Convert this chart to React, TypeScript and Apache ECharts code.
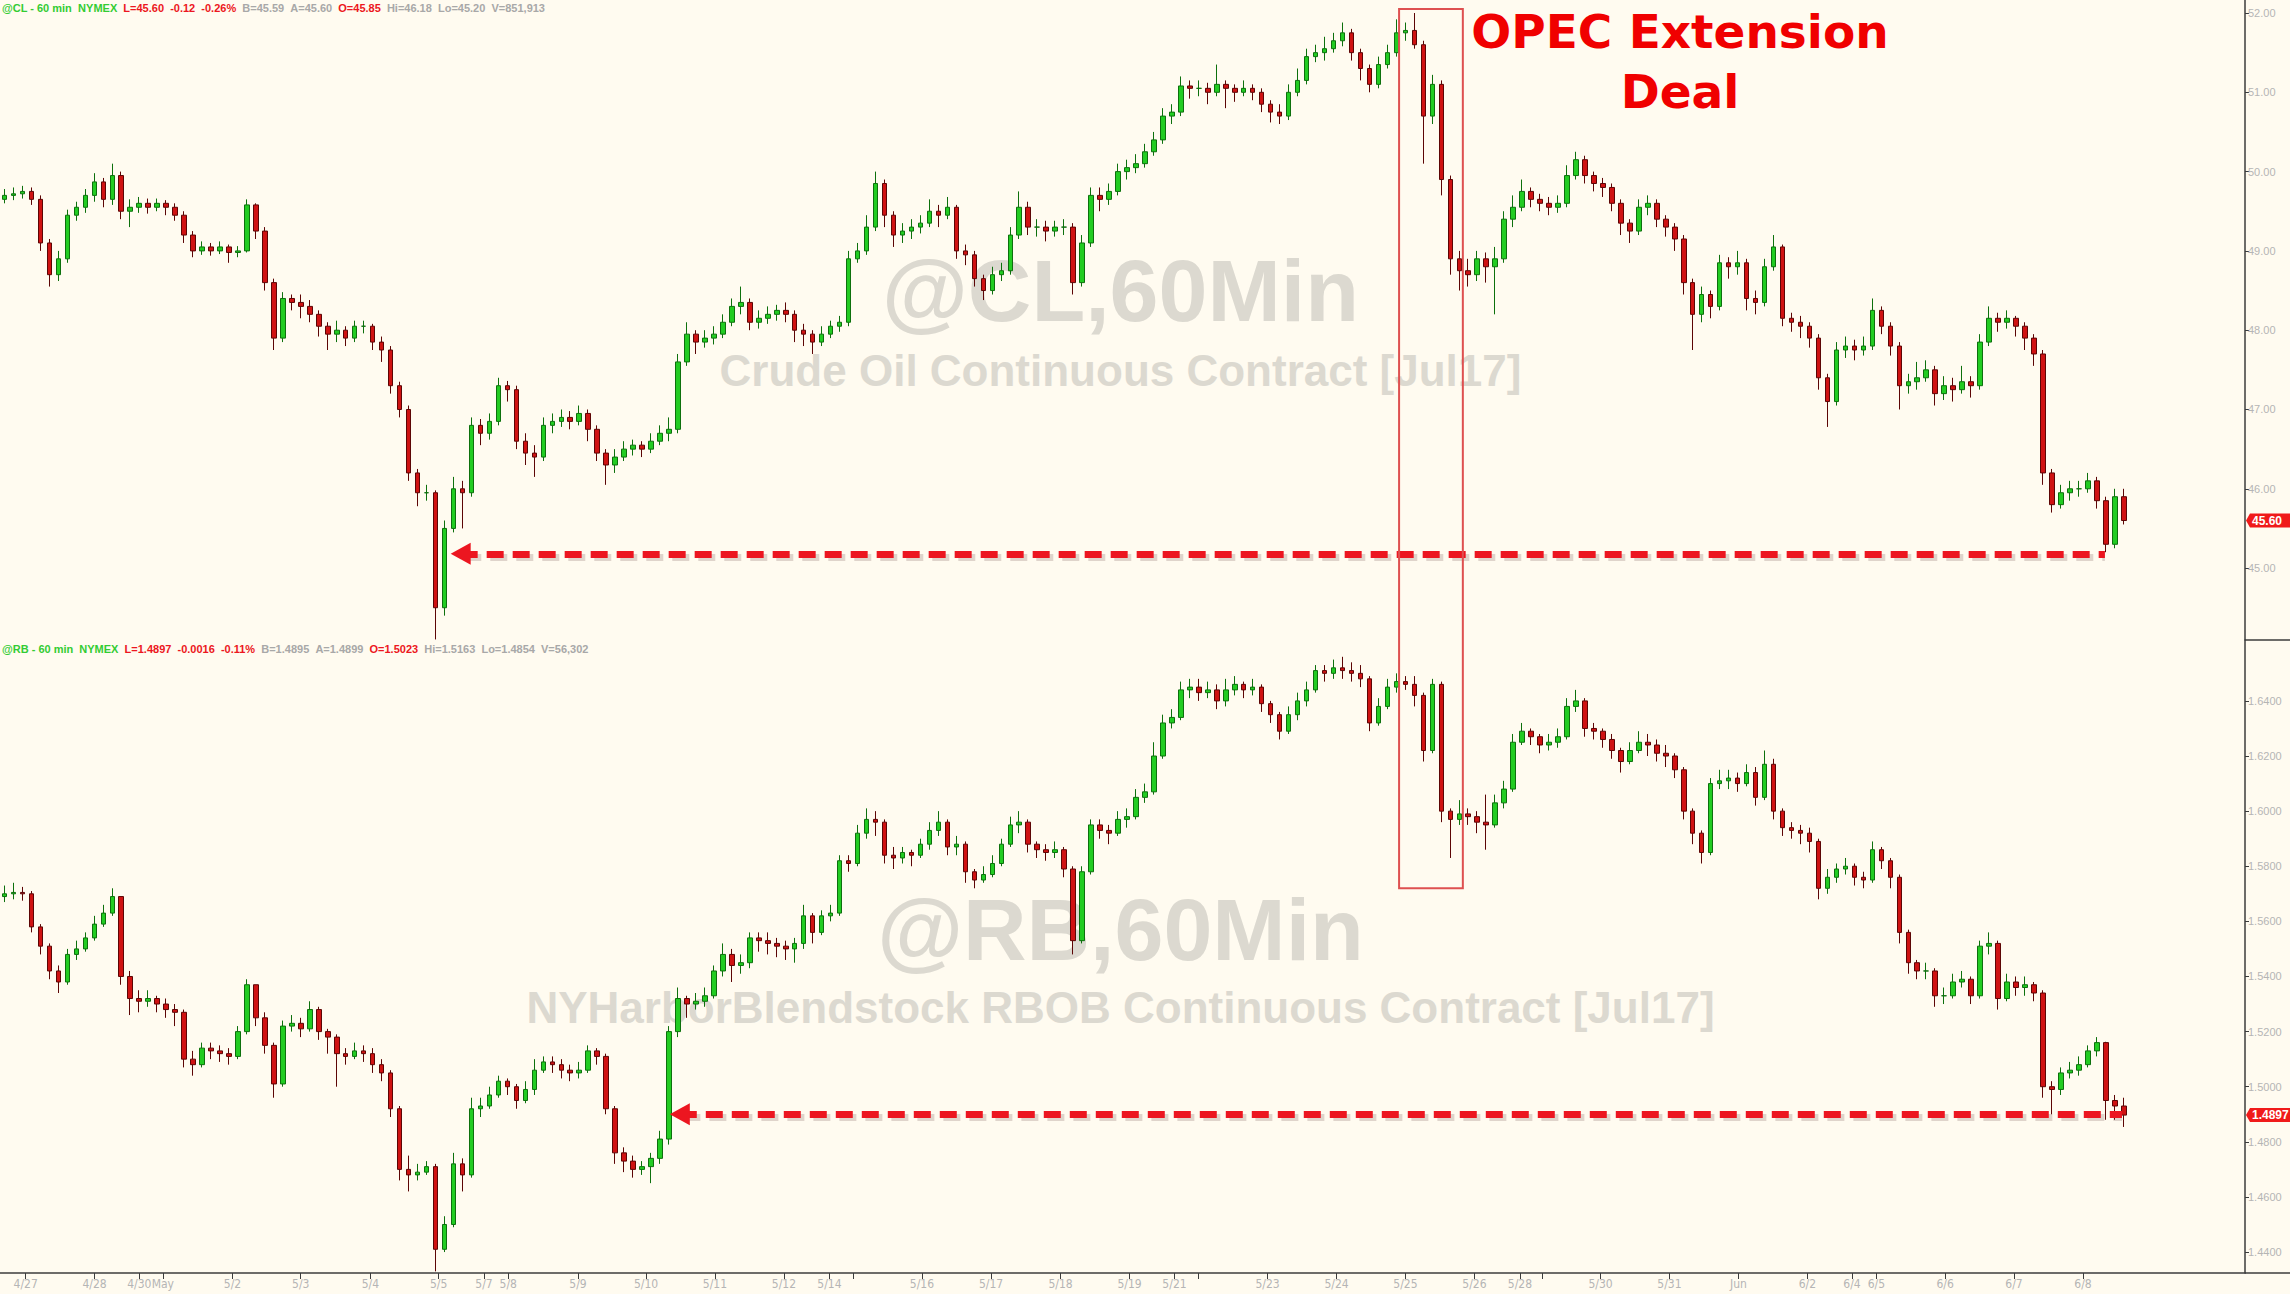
import React, { useEffect, useRef } from 'react';
import * as echarts from 'echarts';

// ---------- DATA (3-hour slots, slot index = time) ----------
const CL_FIRST_OPEN = 49.65;
const clClose = [
  49.70,49.72,49.75,49.65,49.10,48.70,48.90,49.45,49.55,49.70,
  49.87,49.65,49.95,49.50,49.55,49.60,49.55,49.60,49.55,49.45,
  49.20,49.00,49.05,49.00,49.05,48.98,49.00,49.58,49.25,48.60,
  47.90,48.40,48.35,48.30,48.20,48.05,47.95,48.00,47.90,48.05,
  48.05,47.85,47.75,47.30,47.00,46.20,45.95,45.95,44.50,45.50,
  46.00,45.95,46.80,46.70,46.85,47.30,47.25,46.60,46.45,46.40,
  46.80,46.85,46.90,46.85,46.95,46.75,46.45,46.30,46.40,46.50,
  46.55,46.50,46.60,46.70,46.75,47.60,47.95,47.85,47.90,47.95,
  48.10,48.30,48.35,48.10,48.15,48.20,48.25,48.20,48.00,47.95,
  47.85,47.95,48.05,48.10,48.90,49.00,49.30,49.85,49.45,49.20,
  49.25,49.30,49.35,49.50,49.45,49.55,49.00,48.95,48.65,48.50,
  48.70,48.75,49.20,49.55,49.30,49.30,49.25,49.30,49.30,48.60,
  49.10,49.70,49.65,49.75,50.00,50.05,50.10,50.25,50.40,50.70,
  50.75,51.08,51.05,51.05,51.00,51.10,51.05,51.00,51.05,51.00,
  50.85,50.75,50.70,51.00,51.15,51.45,51.50,51.55,51.65,51.75,
  51.50,51.30,51.10,51.35,51.50,51.75,51.78,51.60,50.70,51.10,
  49.90,48.90,48.75,48.70,48.90,48.80,48.90,49.40,49.55,49.75,
  49.65,49.60,49.55,49.60,49.95,50.15,49.95,49.85,49.80,49.60,
  49.35,49.25,49.55,49.60,49.40,49.30,49.15,48.60,48.20,48.45,
  48.30,48.85,48.80,48.85,48.40,48.35,48.80,49.05,48.15,48.10,
  48.05,47.90,47.40,47.10,47.75,47.80,47.75,47.80,48.25,48.05,
  47.80,47.30,47.35,47.40,47.50,47.20,47.30,47.25,47.35,47.30,
  47.85,48.15,48.10,48.15,48.05,47.90,47.70,46.20,45.80,45.95,
  46.00,46.00,46.10,45.85,45.30,45.90,45.60,
];
const clLow = [
  49.60,49.64,49.66,49.58,49.00,48.55,48.62,48.85,49.38,49.48,
  49.62,49.55,49.58,49.40,49.30,49.48,49.47,49.50,49.45,49.38,
  49.10,48.92,48.95,48.94,48.96,48.85,48.92,48.98,49.15,48.50,
  47.75,47.85,48.25,48.15,48.10,47.92,47.75,47.85,47.80,47.85,
  47.96,47.75,47.60,47.20,46.90,46.10,45.78,45.85,44.10,44.40,
  45.45,45.50,45.90,46.55,46.62,46.80,47.10,46.50,46.30,46.15,
  46.35,46.70,46.78,46.75,46.80,46.60,46.35,46.05,46.20,46.35,
  46.42,46.40,46.45,46.55,46.60,46.70,47.55,47.70,47.78,47.82,
  47.90,48.05,48.20,48.00,48.02,48.08,48.12,48.10,47.85,47.80,
  47.70,47.80,47.90,47.98,48.05,48.85,48.95,49.25,49.30,49.05,
  49.10,49.15,49.22,49.30,49.30,49.40,48.90,48.82,48.55,48.38,
  48.45,48.62,48.70,49.15,49.20,49.18,49.12,49.18,49.20,48.45,
  48.55,49.05,49.50,49.58,49.70,49.90,49.98,50.05,50.20,50.35,
  50.60,50.70,50.92,50.95,50.85,50.95,50.80,50.88,50.95,50.90,
  50.75,50.62,50.60,50.65,50.95,51.10,51.38,51.40,51.50,51.58,
  51.40,51.15,51.00,51.05,51.30,51.45,51.65,51.55,50.10,50.60,
  49.70,48.70,48.50,48.55,48.62,48.60,48.20,48.85,49.30,49.50,
  49.55,49.50,49.45,49.48,49.55,49.90,49.85,49.75,49.68,49.50,
  49.20,49.10,49.20,49.45,49.30,49.18,49.00,48.45,47.75,48.10,
  48.15,48.25,48.65,48.70,48.25,48.20,48.30,48.75,48.05,47.98,
  47.90,47.78,47.25,46.78,47.05,47.65,47.62,47.68,47.75,47.95,
  47.68,47.00,47.20,47.25,47.35,47.05,47.12,47.10,47.20,47.15,
  47.25,47.80,47.98,48.02,47.92,47.75,47.55,46.05,45.70,45.75,
  45.85,45.90,45.95,45.75,45.20,45.25,45.55,
];
const clHigh = [
  49.78,49.80,49.82,49.80,49.70,49.15,49.00,49.52,49.62,49.78,
  49.98,49.92,50.10,50.00,49.65,49.68,49.66,49.66,49.64,49.60,
  49.50,49.25,49.12,49.10,49.12,49.08,49.06,49.65,49.60,49.30,
  48.65,48.48,48.45,48.45,48.38,48.25,48.10,48.12,48.05,48.12,
  48.12,48.08,47.92,47.80,47.35,47.05,46.25,46.05,45.98,45.60,
  46.15,46.10,46.90,46.88,46.95,47.40,47.36,47.30,46.70,46.55,
  46.90,46.95,47.00,46.98,47.05,47.00,46.80,46.50,46.50,46.60,
  46.62,46.60,46.70,46.80,46.90,47.70,48.10,48.00,48.00,48.05,
  48.20,48.40,48.55,48.40,48.25,48.30,48.32,48.35,48.25,48.08,
  48.00,48.05,48.12,48.18,49.00,49.10,49.45,50.00,49.90,49.50,
  49.35,49.40,49.45,49.65,49.58,49.68,49.58,49.08,49.00,48.70,
  48.80,48.85,49.30,49.75,49.62,49.40,49.38,49.38,49.40,49.35,
  49.20,49.80,49.80,49.85,50.10,50.15,50.22,50.35,50.50,50.80,
  50.85,51.20,51.15,51.15,51.12,51.35,51.15,51.10,51.15,51.10,
  51.05,50.90,50.85,51.10,51.30,51.55,51.60,51.70,51.75,51.88,
  51.80,51.55,51.35,51.45,51.60,51.92,51.88,52.00,51.65,51.22,
  51.15,49.95,49.00,48.90,49.00,48.98,49.05,49.50,49.70,49.90,
  49.80,49.72,49.68,49.70,50.08,50.25,50.20,50.00,49.92,49.85,
  49.65,49.40,49.65,49.70,49.65,49.45,49.35,49.20,48.65,48.55,
  48.50,48.95,48.92,49.00,48.90,48.50,48.90,49.20,49.08,48.22,
  48.18,48.10,47.95,47.45,47.85,47.92,47.88,47.92,48.40,48.30,
  48.10,47.85,47.45,47.60,47.62,47.55,47.42,47.40,47.55,47.42,
  47.95,48.30,48.22,48.25,48.18,48.10,47.95,47.75,46.25,46.05,
  46.10,46.10,46.20,46.15,45.90,46.00,46.00,
];

const RB_FIRST_OPEN = 1.569;
const rbClose = [
  1.5700,1.5705,1.5700,1.5580,1.5510,1.5420,1.5380,1.5480,1.5500,1.5540,
  1.5590,1.5630,1.5690,1.5400,1.5320,1.5310,1.5320,1.5300,1.5280,1.5270,
  1.5100,1.5080,1.5140,1.5130,1.5120,1.5110,1.5200,1.5370,1.5250,1.5150,
  1.5010,1.5220,1.5230,1.5210,1.5280,1.5200,1.5180,1.5120,1.5110,1.5130,
  1.5120,1.5080,1.5050,1.4920,1.4700,1.4680,1.4690,1.4710,1.4410,1.4500,
  1.4720,1.4680,1.4920,1.4930,1.4970,1.5020,1.5000,1.4950,1.4990,1.5060,
  1.5090,1.5080,1.5060,1.5050,1.5060,1.5130,1.5110,1.4920,1.4760,1.4730,
  1.4700,1.4710,1.4740,1.4810,1.5200,1.5320,1.5300,1.5310,1.5330,1.5420,
  1.5480,1.5440,1.5450,1.5540,1.5530,1.5520,1.5510,1.5500,1.5520,1.5620,
  1.5560,1.5620,1.5630,1.5820,1.5810,1.5920,1.5970,1.5960,1.5840,1.5830,
  1.5850,1.5840,1.5880,1.5930,1.5960,1.5870,1.5880,1.5780,1.5750,1.5770,
  1.5810,1.5880,1.5950,1.5960,1.5880,1.5860,1.5850,1.5860,1.5790,1.5530,
  1.5780,1.5950,1.5930,1.5920,1.5970,1.5980,1.6050,1.6070,1.6200,1.6320,
  1.6340,1.6440,1.6450,1.6430,1.6440,1.6400,1.6440,1.6460,1.6440,1.6450,
  1.6390,1.6350,1.6290,1.6350,1.6400,1.6440,1.6510,1.6500,1.6520,1.6510,
  1.6500,1.6480,1.6320,1.6380,1.6450,1.6470,1.6460,1.6420,1.6220,1.6460,
  1.6000,1.5970,1.5990,1.5980,1.5960,1.5950,1.6030,1.6080,1.6250,1.6290,
  1.6270,1.6240,1.6250,1.6270,1.6380,1.6400,1.6300,1.6290,1.6260,1.6220,
  1.6180,1.6220,1.6250,1.6240,1.6210,1.6200,1.6150,1.6000,1.5920,1.5850,
  1.6100,1.6110,1.6120,1.6100,1.6140,1.6050,1.6170,1.6000,1.5940,1.5930,
  1.5920,1.5890,1.5720,1.5760,1.5790,1.5800,1.5760,1.5750,1.5860,1.5820,
  1.5760,1.5560,1.5450,1.5420,1.5420,1.5330,1.5330,1.5380,1.5390,1.5330,
  1.5510,1.5520,1.5320,1.5380,1.5360,1.5370,1.5340,1.5000,1.4990,1.5050,
  1.5060,1.5080,1.5130,1.5160,1.4950,1.4930,1.4897,
];
const rbLow = [
  1.5670,1.5680,1.5675,1.5560,1.5480,1.5390,1.5340,1.5370,1.5460,1.5490,
  1.5530,1.5580,1.5620,1.5370,1.5260,1.5270,1.5290,1.5270,1.5250,1.5220,
  1.5070,1.5040,1.5070,1.5100,1.5090,1.5080,1.5100,1.5190,1.5220,1.5120,
  1.4960,1.5000,1.5200,1.5180,1.5200,1.5170,1.5120,1.5000,1.5080,1.5100,
  1.5090,1.5050,1.5020,1.4890,1.4660,1.4620,1.4660,1.4680,1.4330,1.4400,
  1.4490,1.4620,1.4670,1.4890,1.4920,1.4960,1.4970,1.4920,1.4940,1.4970,
  1.5050,1.5050,1.5030,1.5020,1.5030,1.5050,1.5080,1.4900,1.4720,1.4690,
  1.4670,1.4680,1.4650,1.4720,1.4790,1.5180,1.5250,1.5280,1.5290,1.5320,
  1.5400,1.5380,1.5410,1.5430,1.5490,1.5480,1.5470,1.5460,1.5450,1.5500,
  1.5520,1.5550,1.5600,1.5620,1.5780,1.5800,1.5900,1.5910,1.5810,1.5790,
  1.5810,1.5800,1.5830,1.5860,1.5910,1.5840,1.5840,1.5740,1.5720,1.5740,
  1.5760,1.5800,1.5870,1.5920,1.5850,1.5830,1.5820,1.5830,1.5760,1.5480,
  1.5520,1.5770,1.5900,1.5880,1.5910,1.5940,1.5970,1.6030,1.6060,1.6190,
  1.6300,1.6330,1.6410,1.6400,1.6410,1.6370,1.6380,1.6420,1.6410,1.6420,
  1.6360,1.6320,1.6260,1.6280,1.6330,1.6380,1.6430,1.6470,1.6480,1.6480,
  1.6470,1.6450,1.6290,1.6310,1.6370,1.6430,1.6440,1.6380,1.6180,1.6210,
  1.5960,1.5830,1.5950,1.5950,1.5920,1.5860,1.5940,1.6010,1.6070,1.6240,
  1.6240,1.6210,1.6220,1.6230,1.6260,1.6360,1.6270,1.6260,1.6230,1.6190,
  1.6140,1.6170,1.6210,1.6200,1.6180,1.6160,1.6120,1.5970,1.5880,1.5810,
  1.5840,1.6080,1.6080,1.6070,1.6090,1.6020,1.6040,1.5970,1.5910,1.5900,
  1.5880,1.5850,1.5680,1.5700,1.5740,1.5770,1.5730,1.5720,1.5740,1.5790,
  1.5720,1.5520,1.5410,1.5390,1.5390,1.5290,1.5300,1.5320,1.5360,1.5300,
  1.5320,1.5480,1.5280,1.5310,1.5330,1.5330,1.5310,1.4960,1.4900,1.4970,
  1.5030,1.5040,1.5070,1.5110,1.4880,1.4880,1.4854,
];
const rbHigh = [
  1.5730,1.5740,1.5725,1.5710,1.5590,1.5520,1.5440,1.5500,1.5530,1.5560,
  1.5620,1.5660,1.5720,1.5690,1.5420,1.5350,1.5350,1.5330,1.5320,1.5300,
  1.5280,1.5130,1.5160,1.5160,1.5150,1.5140,1.5220,1.5390,1.5370,1.5270,
  1.5160,1.5240,1.5260,1.5250,1.5310,1.5290,1.5210,1.5190,1.5140,1.5160,
  1.5150,1.5140,1.5100,1.5060,1.4930,1.4750,1.4720,1.4730,1.4720,1.4530,
  1.4760,1.4740,1.4960,1.4960,1.5000,1.5040,1.5030,1.5010,1.5020,1.5100,
  1.5110,1.5110,1.5100,1.5080,1.5090,1.5150,1.5140,1.5120,1.4930,1.4780,
  1.4750,1.4730,1.4760,1.4840,1.5220,1.5360,1.5330,1.5340,1.5360,1.5440,
  1.5520,1.5500,1.5480,1.5560,1.5560,1.5560,1.5540,1.5530,1.5540,1.5660,
  1.5630,1.5640,1.5660,1.5840,1.5840,1.5950,1.6010,1.6000,1.5970,1.5870,
  1.5870,1.5860,1.5900,1.5960,1.6000,1.5970,1.5910,1.5890,1.5790,1.5800,
  1.5840,1.5900,1.5980,1.6000,1.5970,1.5890,1.5880,1.5890,1.5870,1.5800,
  1.5800,1.5970,1.5970,1.5950,1.6000,1.6010,1.6080,1.6100,1.6250,1.6350,
  1.6370,1.6470,1.6480,1.6480,1.6470,1.6460,1.6480,1.6490,1.6470,1.6480,
  1.6460,1.6400,1.6360,1.6380,1.6430,1.6470,1.6530,1.6530,1.6550,1.6560,
  1.6540,1.6530,1.6490,1.6410,1.6480,1.6500,1.6490,1.6490,1.6430,1.6480,
  1.6470,1.6010,1.6040,1.6010,1.6000,1.6060,1.6060,1.6110,1.6280,1.6320,
  1.6300,1.6280,1.6280,1.6300,1.6410,1.6440,1.6410,1.6320,1.6300,1.6280,
  1.6230,1.6250,1.6290,1.6280,1.6260,1.6240,1.6210,1.6160,1.6010,1.5930,
  1.6120,1.6150,1.6150,1.6140,1.6170,1.6160,1.6220,1.6190,1.6010,1.5960,
  1.5950,1.5940,1.5900,1.5790,1.5810,1.5830,1.5810,1.5780,1.5890,1.5870,
  1.5830,1.5770,1.5570,1.5460,1.5450,1.5430,1.5360,1.5410,1.5420,1.5400,
  1.5530,1.5560,1.5530,1.5410,1.5400,1.5400,1.5380,1.5350,1.5020,1.5070,
  1.5090,1.5110,1.5150,1.5180,1.5163,1.4970,1.4960,
];

// date ticks on the slot (time) scale; '' = tick without label
const dateTicks: [number, string][] = [
  [2.36, '4/27'], [10.03, '4/28'], [15.01, '4/30'], [17.63, 'May'], [25.39, '5/2'],
  [32.99, '5/3'], [40.75, '5/4'], [48.34, '5/5'], [53.40, '5/7'], [56.10, '5/8'],
  [63.87, '5/9'], [71.44, '5/10'], [79.12, '5/11'], [86.80, '5/12'], [91.87, '5/14'],
  [94.49, ''], [102.17, '5/16'], [109.86, '5/17'], [117.60, '5/18'], [125.28, '5/19'],
  [130.29, '5/21'], [132.91, ''], [140.66, '5/23'], [148.34, '5/24'], [156.01, '5/25'],
  [163.69, '5/26'], [168.76, '5/28'], [171.28, ''], [177.74, '5/30'], [185.41, '5/31'],
  [193.09, 'Jun'], [200.77, '6/2'], [205.74, '6/4'], [208.45, '6/5'], [216.10, '6/6'],
  [223.78, '6/7'], [231.46, '6/8'],
];
const clTicks = [45, 46, 47, 48, 49, 50, 51, 52];
const rbTicks = [1.44, 1.46, 1.48, 1.50, 1.52, 1.54, 1.56, 1.58, 1.60, 1.62, 1.64];

const clLast = 45.60;
const rbLast = 1.4897;
const clSupport = { from: 50.8, to: 233.9, level: 45.18 };
const rbSupport = { from: 75.2, to: 235.8, level: 1.4900 };
const opecBox = { from: 155.3, to: 162.4, clTop: 52.05, rbBottom: 1.572 };

const clHeader = [
  ['g', '@CL - 60 min'], ['g', 'NYMEX'], ['r', 'L=45.60'], ['r', '-0.12'], ['r', '-0.26%'],
  ['k', 'B=45.59'], ['k', 'A=45.60'], ['r', 'O=45.85'], ['k', 'Hi=46.18'], ['k', 'Lo=45.20'], ['k', 'V=851,913'],
];
const rbHeader = [
  ['g', '@RB - 60 min'], ['g', 'NYMEX'], ['r', 'L=1.4897'], ['r', '-0.0016'], ['r', '-0.11%'],
  ['k', 'B=1.4895'], ['k', 'A=1.4899'], ['r', 'O=1.5023'], ['k', 'Hi=1.5163'], ['k', 'Lo=1.4854'], ['k', 'V=56,302'],
];

// ---------- helpers ----------
function toOHLC(firstOpen: number, close: number[], low: number[], high: number[]) {
  return close.map((c, i) => [i, i === 0 ? firstOpen : close[i - 1], c, low[i], high[i]]);
}

const W = 2290;
const H = 1294;
const PLOT_W = 2245;
const TOP_H = 640;
const BOT_TOP = 640;
const BOT_H = 633;
const SLOT_MIN = -0.5;
const SLOT_MAX = 249.5;
const CL_RANGE = [44.093, 52.164];
const RB_RANGE = [1.4324, 1.6621];

const RED = '#ec1620';
const BG = '#fffbf0';
const WM = '#dcd9d0';
const AXIS = '#3c3c3c';
const LABEL_GRAY = '#b5b5b5';
const NARROW = "'Liberation Sans Narrow', 'DejaVu Sans Condensed', 'Liberation Sans', sans-serif";
const SANS = "'Liberation Sans', Arial, sans-serif";

const candleStyle = {
  color: '#22cc22',
  color0: '#cf1212',
  borderColor: '#0d700d',
  borderColor0: '#5c0505',
  borderWidth: 1,
};

// dashed support line with an arrow head, plus a faint drop shadow line below it
function supportLines(s: { from: number; to: number; level: number }, shadowShift: number) {
  return [
    [
      { coord: [s.from + 0.4, s.level - shadowShift], symbol: 'none', lineStyle: { color: 'rgba(80,40,40,0.18)' } },
      { coord: [s.to, s.level - shadowShift], symbol: 'none' },
    ],
    [
      { coord: [s.from, s.level], symbol: 'triangle', symbolSize: [22, 20] },
      { coord: [s.to, s.level], symbol: 'none' },
    ],
  ];
}

const markLineBase = {
  silent: true,
  animation: false,
  symbol: ['none', 'none'],
  label: { show: false },
  lineStyle: { color: RED, width: 7, type: [17, 9] },
  emphasis: { disabled: true },
};

function headerText(parts: string[][]) {
  return parts.map(([s, t]) => `{${s}|${t}}`).join('  ');
}

const headerRich = {
  g: { fill: '#33cc33', font: `bold 11px ${SANS}` },
  r: { fill: RED, font: `bold 11px ${SANS}` },
  k: { fill: '#a8a8a8', font: `bold 11px ${SANS}` },
};

export default function App() {
  const ref = useRef<HTMLDivElement>(null);

  useEffect(() => {
    document.body.style.margin = '0';
    const chart = echarts.init(ref.current!, undefined, { renderer: 'svg', width: W, height: H });

    const tickVals = dateTicks.map((d) => d[0]);
    const labelFor = (v: number) => {
      const f = dateTicks.find((d) => Math.abs(d[0] - v) < 1e-6);
      return f ? f[1] : '';
    };

    const yAxisCommon = (ticks: number[], digits: number) => ({
      type: 'value',
      position: 'right',
      axisLine: { show: true, onZero: false, lineStyle: { color: AXIS, width: 1.5 } },
      axisTick: { show: true, customValues: ticks, length: 4, lineStyle: { color: AXIS } },
      axisLabel: {
        customValues: ticks,
        formatter: (v: number) => v.toFixed(digits),
        color: LABEL_GRAY,
        fontSize: 11,
        fontFamily: SANS,
        margin: 3,
      },
      splitLine: { show: false },
    });

    // 3px drop-shadow expressed in each panel's value units
    const clShift = (3 * (CL_RANGE[1] - CL_RANGE[0])) / TOP_H;
    const rbShift = (3 * (RB_RANGE[1] - RB_RANGE[0])) / BOT_H;

    chart.setOption({
      animation: false,
      backgroundColor: BG,
      grid: [
        { left: 0, top: 0, width: PLOT_W, height: TOP_H },
        { left: 0, top: BOT_TOP, width: PLOT_W, height: BOT_H },
      ],
      xAxis: [
        { type: 'value', gridIndex: 0, min: SLOT_MIN, max: SLOT_MAX, show: false },
        {
          type: 'value',
          gridIndex: 1,
          min: SLOT_MIN,
          max: SLOT_MAX,
          axisLine: { show: true, onZero: false, lineStyle: { color: AXIS, width: 1.5 } },
          axisTick: { show: true, customValues: tickVals, length: 6, lineStyle: { color: AXIS } },
          axisLabel: {
            customValues: tickVals,
            formatter: (v: number) => labelFor(v),
            color: LABEL_GRAY,
            fontSize: 12,
            fontFamily: NARROW,
            margin: 5,
          },
          splitLine: { show: false },
        },
      ],
      yAxis: [
        { ...yAxisCommon(clTicks, 2), gridIndex: 0, min: CL_RANGE[0], max: CL_RANGE[1] },
        { ...yAxisCommon(rbTicks, 4), gridIndex: 1, min: RB_RANGE[0], max: RB_RANGE[1] },
      ],
      series: [
        {
          type: 'candlestick',
          xAxisIndex: 0,
          yAxisIndex: 0,
          dimensions: ['t', 'open', 'close', 'lowest', 'highest'],
          encode: { x: 't', y: ['open', 'close', 'lowest', 'highest'] },
          data: toOHLC(CL_FIRST_OPEN, clClose, clLow, clHigh),
          barWidth: 5,
          itemStyle: candleStyle,
          markLine: { ...markLineBase, data: supportLines(clSupport, clShift) },
        },
        {
          type: 'candlestick',
          xAxisIndex: 1,
          yAxisIndex: 1,
          dimensions: ['t', 'open', 'close', 'lowest', 'highest'],
          encode: { x: 't', y: ['open', 'close', 'lowest', 'highest'] },
          data: toOHLC(RB_FIRST_OPEN, rbClose, rbLow, rbHigh),
          barWidth: 5,
          itemStyle: candleStyle,
          markLine: { ...markLineBase, data: supportLines(rbSupport, rbShift) },
        },
      ],
    });

    const p1 = chart.convertToPixel({ gridIndex: 0 }, [opecBox.from, opecBox.clTop]) as number[];
    const p2 = chart.convertToPixel({ gridIndex: 1 }, [opecBox.to, opecBox.rbBottom]) as number[];
    const clBadgeY = (chart.convertToPixel({ gridIndex: 0 }, [0, clLast]) as number[])[1];
    const rbBadgeY = (chart.convertToPixel({ gridIndex: 1 }, [0, rbLast]) as number[])[1];
    const cx = PLOT_W / 2 - 2;

    const wm = (text: string, y: number, size: number) => ({
      type: 'text',
      z: 0,
      silent: true,
      style: {
        text,
        x: cx,
        y,
        fill: WM,
        font: `bold ${size}px ${SANS}`,
        textAlign: 'center',
        textVerticalAlign: 'middle',
      },
    });

    const badge = (y: number, text: string) => ({
      type: 'group',
      x: PLOT_W + 1,
      y,
      z: 70,
      silent: true,
      children: [
        {
          type: 'polygon',
          shape: { points: [[0, 0], [4, -7], [W - PLOT_W, -7], [W - PLOT_W, 7], [4, 7]] },
          style: { fill: '#f01a1a' },
        },
        {
          type: 'text',
          style: {
            text, x: 6, y: 0, fill: '#fff', font: `bold 12px ${SANS}`,
            textVerticalAlign: 'middle',
          },
        },
      ],
    });

    chart.setOption({
      graphic: [
        wm('@CL,60Min', 290, 88),
        wm('Crude Oil Continuous Contract [Jul17]', 370, 44),
        wm('@RB,60Min', 929, 88),
        wm('NYHarborBlendstock RBOB Continuous Contract [Jul17]', 1007, 44),
        {
          type: 'text',
          z: 50,
          silent: true,
          style: {
            x: 2, y: 8, text: headerText(clHeader), rich: headerRich,
            font: `bold 11px ${SANS}`, fill: '#a8a8a8', textVerticalAlign: 'middle',
          },
        },
        {
          type: 'text',
          z: 50,
          silent: true,
          style: {
            x: 2, y: 649, text: headerText(rbHeader), rich: headerRich,
            font: `bold 11px ${SANS}`, fill: '#a8a8a8', textVerticalAlign: 'middle',
          },
        },
        {
          type: 'rect',
          z: 60,
          silent: true,
          shape: { x: p1[0], y: p1[1], width: p2[0] - p1[0], height: p2[1] - p1[1] },
          style: { fill: 'none', stroke: '#de5050', lineWidth: 2 },
        },
        {
          type: 'text',
          z: 60,
          silent: true,
          style: {
            text: 'OPEC Extension', x: 1680, y: 31, fill: '#f00000',
            font: "bold 47px 'DejaVu Sans', Verdana, sans-serif",
            textAlign: 'center', textVerticalAlign: 'middle',
          },
        },
        {
          type: 'text',
          z: 60,
          silent: true,
          style: {
            text: 'Deal', x: 1680, y: 91, fill: '#f00000',
            font: "bold 47px 'DejaVu Sans', Verdana, sans-serif",
            textAlign: 'center', textVerticalAlign: 'middle',
          },
        },
        {
          type: 'line',
          z: 50,
          silent: true,
          shape: { x1: PLOT_W, y1: TOP_H, x2: W, y2: TOP_H },
          style: { stroke: AXIS, lineWidth: 1.5 },
        },
        {
          type: 'line',
          z: 50,
          silent: true,
          shape: { x1: PLOT_W, y1: BOT_TOP + BOT_H, x2: W, y2: BOT_TOP + BOT_H },
          style: { stroke: AXIS, lineWidth: 1.5 },
        },
        badge(clBadgeY, clLast.toFixed(2)),
        badge(rbBadgeY, rbLast.toFixed(4)),
      ],
    });

    return () => chart.dispose();
  }, []);

  return <div ref={ref} style={{ position: 'fixed', left: 0, top: 0, width: W, height: H }} />;
}
